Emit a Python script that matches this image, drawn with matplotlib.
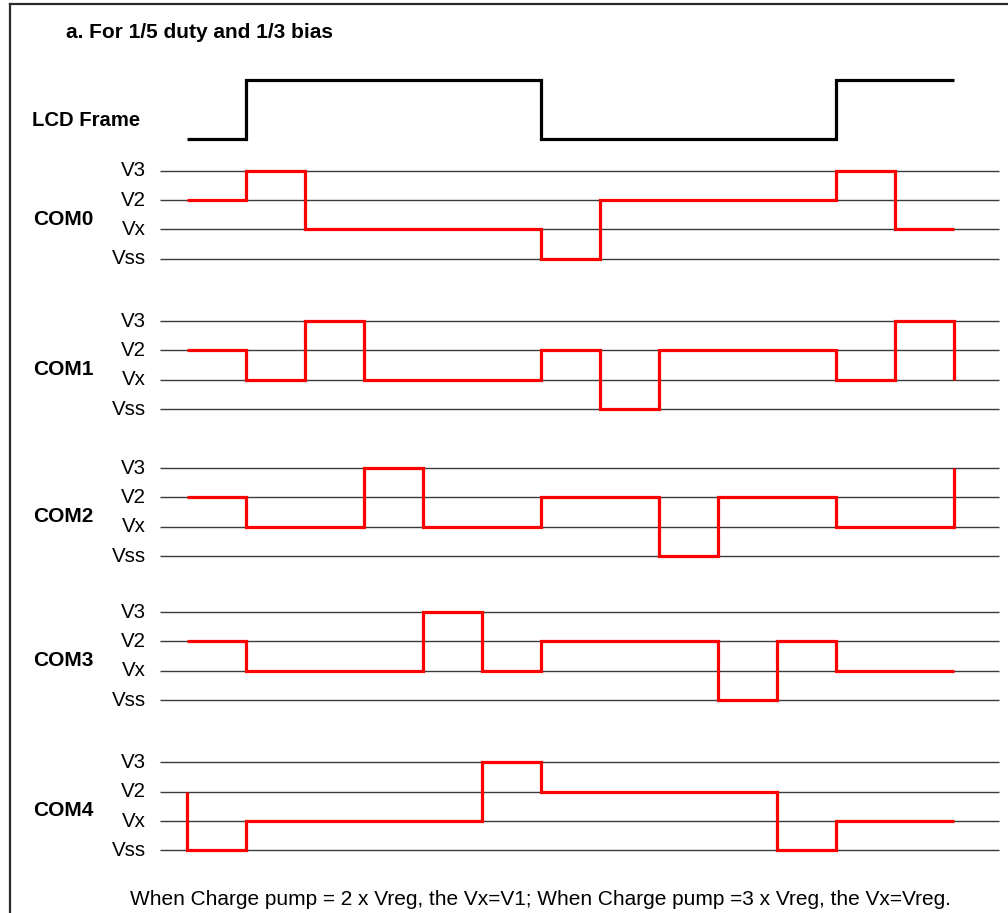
import matplotlib
matplotlib.use("Agg")
import matplotlib.pyplot as plt
import numpy as np

plt.rcParams['font.family'] = ['Liberation Sans', 'DejaVu Sans']

# ---- waveform data (one value per time slot) ----
frame = [0, 1, 1, 1, 1, 1, 0, 0, 0, 0, 0, 1, 1]
level_names = ['Vss', 'Vx', 'V2', 'V3']
com_names = ['COM0', 'COM1', 'COM2', 'COM3', 'COM4']
com0 = ['V2', 'V3', 'Vx', 'Vx', 'Vx', 'Vx', 'Vss', 'V2', 'V2', 'V2', 'V2', 'V3', 'Vx']
com1 = ['V2', 'Vx', 'V3', 'Vx', 'Vx', 'Vx', 'V2', 'Vss', 'V2', 'V2', 'V2', 'Vx', 'V3']
com2 = ['V2', 'Vx', 'Vx', 'V3', 'Vx', 'Vx', 'V2', 'V2', 'Vss', 'V2', 'V2', 'Vx', 'Vx']
com3 = ['V2', 'Vx', 'Vx', 'Vx', 'V3', 'Vx', 'V2', 'V2', 'V2', 'Vss', 'V2', 'Vx', 'Vx']
com4 = ['Vss', 'Vx', 'Vx', 'Vx', 'Vx', 'V3', 'V2', 'V2', 'V2', 'V2', 'Vss', 'Vx', 'Vx']
com_waves = [com0, com1, com2, com3, com4]
# level carried in from before / out to after the shown window
lead_in = [None, None, None, None, 'V2']
lead_out = [None, 'Vx', 'V3', None, None]

title = 'a. For 1/5 duty and 1/3 bias'
footnote = ('When Charge pump = 2 x Vreg, the Vx=V1; '
            'When Charge pump =3 x Vreg, the Vx=Vreg.')

# ---- layout (pixels) ----
W, H = 1008, 913
X0, STEP = 187.0, 59.0          # left edge of slot 0, slot width
row_vss = [258.7, 409.0, 556.0, 700.0, 850.3]   # Vss baseline of each COM row
LEVEL_GAP = 29.3
FRAME_LOW, FRAME_HIGH = 139.0, 80.0

fig = plt.figure(figsize=(W / 100, H / 100), dpi=100)
ax = fig.add_axes([0, 0, 1, 1])
ax.set_xlim(-X0 / STEP, (W - X0) / STEP)
ax.set_ylim(H, 0)
ax.axis('off')


def fx(px):
    return px / W


def fy(py):
    return 1 - py / H


def step_points(values, lead=None, tail=None):
    xs, ys = [], []
    if lead is not None:
        xs.append(0)
        ys.append(lead)
    for i, v in enumerate(values):
        xs += [i, i + 1]
        ys += [v, v]
    if tail is not None:
        xs.append(len(values))
        ys.append(tail)
    return np.array(xs, float), np.array(ys, float)


# outer frame (top and left edges)
fig.add_artist(plt.Line2D([fx(9.5), fx(9.5)], [fy(H + 2), fy(4.5)],
                          color='#2b2b2b', lw=1.6, transform=fig.transFigure))
fig.add_artist(plt.Line2D([fx(9.5), fx(W + 2)], [fy(4.5), fy(4.5)],
                          color='#2b2b2b', lw=1.6, transform=fig.transFigure))

fig.text(fx(66), fy(32), title, fontsize=15, fontweight='bold',
         ha='left', va='center')

# LCD frame signal
fxs, fys = step_points(frame)
ax.plot(fxs, FRAME_LOW + (FRAME_HIGH - FRAME_LOW) * fys, color='black',
        lw=2.3, solid_joinstyle='miter', solid_capstyle='butt')
fig.text(fx(32), fy(120), 'LCD Frame', fontsize=14.6, fontweight='bold',
         ha='left', va='center')

line_x0 = (160 - X0) / STEP
line_x1 = (999 - X0) / STEP

for r, (name, wave) in enumerate(zip(com_names, com_waves)):
    base = row_vss[r]
    for k, lv in enumerate(level_names):
        y = base - k * LEVEL_GAP
        ax.plot([line_x0, line_x1], [y, y], color='#3a3a3a', lw=1.0,
                solid_capstyle='butt')
        fig.text(fx(146), fy(y), lv, fontsize=14.8, ha='right', va='center')
    idx = [level_names.index(v) for v in wave]
    lead = level_names.index(lead_in[r]) if lead_in[r] else None
    tail = level_names.index(lead_out[r]) if lead_out[r] else None
    xs, ys = step_points(idx, lead, tail)
    ax.plot(xs, base - ys * LEVEL_GAP, color='#ff0000', lw=2.3,
            solid_joinstyle='miter', solid_capstyle='butt', zorder=3)
    fig.text(fx(33), fy(base - 1.35 * LEVEL_GAP), name, fontsize=15,
             fontweight='bold', ha='left', va='center')

fig.text(fx(540), fy(899), footnote, fontsize=15, ha='center', va='center')

fig.savefig('out.png', dpi=100, facecolor='white')
